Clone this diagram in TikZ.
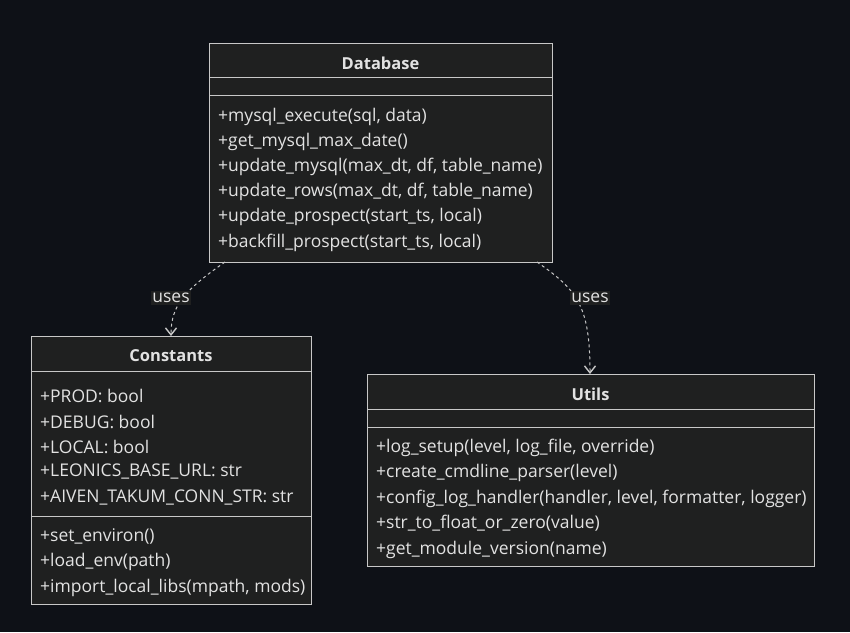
\documentclass[tikz,border=0pt]{standalone}
\usepackage{fontspec}
\setmainfont{Open Sans}
\usetikzlibrary{arrows.meta}

\definecolor{bgcol}{HTML}{0E1117}
\definecolor{boxfill}{HTML}{1F2020}
\definecolor{boxline}{HTML}{C8C8C8}
\definecolor{txtcol}{HTML}{E2E2E2}

\tikzset{
 classbox/.style={draw=boxline, fill=boxfill, line width=1pt, inner sep=0pt, anchor=north west},
 member/.style={anchor=west, text=txtcol, inner sep=0pt, yshift=-1.5pt, font=\fontsize{17.5}{20}\selectfont},
 classtitle/.style={text=txtcol, inner sep=0pt, yshift=-1pt, font=\bfseries\fontsize{16.5}{20}\selectfont},
 sepline/.style={draw=boxline, line width=1pt},
 dep/.style={draw=boxline, line width=1pt, dash pattern=on 3pt off 3pt, -{Straight Barb[length=7pt,width=11pt,line width=1.4pt]}},
 edgelabel/.style={fill=boxfill, text=txtcol, inner xsep=1.5pt, inner ysep=2.5pt, font=\fontsize{17.5}{20}\selectfont}
}

\begin{document}
\begin{tikzpicture}[x=1pt,y=-1pt]
 \fill[bgcol] (0,0) rectangle (850,632);
 \useasboundingbox (0,0) rectangle (850,632);

 %Boxes
 \node[classbox, minimum width=343pt, minimum height=219pt] (database) at (209,43) {};
 \node[classbox, minimum width=280pt, minimum height=268pt] (constants) at (31,336) {};
 \node[classbox, minimum width=447pt, minimum height=192pt] (utils) at (367,374) {};

 %Separators
 \draw[sepline] (209,77) -- (552,77);
 \draw[sepline] (209,95) -- (552,95);
 \draw[sepline] (31,371) -- (311,371);
 \draw[sepline] (31,516) -- (311,516);
 \draw[sepline] (367,409) -- (814,409);
 \draw[sepline] (367,427) -- (814,427);

 %Titles
 \node[classtitle] (dbtitle) at (380.5,62) {Database};
 \node[classtitle] (consttitle) at (171,355) {Constants};
 \node[classtitle] (utilstitle) at (590.5,393) {Utils};

 %Database members
 \foreach \y/\txt [count=\i] in {115/+mysql\_execute(sql{,} data),
                                 140/+get\_mysql\_max\_date(),
                                 165/+update\_mysql(max\_dt{,} df{,} table\_name),
                                 190/+update\_rows(max\_dt{,} df{,} table\_name),
                                 215/+update\_prospect(start\_ts{,} local),
                                 241/+backfill\_prospect(start\_ts{,} local)}
  \node[member] (dbm\i) at (218,\y) {\txt};

 %Constants members
 \foreach \y/\txt [count=\i] in {394/+PROD: bool,
                                 420/+DEBUG: bool,
                                 445/+LOCAL: bool,
                                 470/+LEONICS\_BASE\_URL: str,
                                 496/+AIVEN\_TAKUM\_CONN\_STR: str}
  \node[member] (ca\i) at (40,\y) {\txt};
 \foreach \y/\txt [count=\i] in {535/+set\_environ(),
                                 560/+load\_env(path),
                                 586/+import\_local\_libs(mpath{,} mods)}
  \node[member] (cm\i) at (40,\y) {\txt};

 %Utils members
 \foreach \y/\txt [count=\i] in {446/+log\_setup(level{,} log\_file{,} override),
                                 471/+create\_cmdline\_parser(level),
                                 497/+config\_log\_handler(handler{,} level{,} formatter{,} logger),
                                 522/+str\_to\_float\_or\_zero(value),
                                 548/+get\_module\_version(name)}
  \node[member] (um\i) at (376,\y) {\txt};

 %Lines
 \coordinate (dbleft) at (225,262);
 \coordinate (dbright) at (537,262);
 \coordinate (consttop) at (171,336);
 \coordinate (utilstop) at (590,374);
 \draw[dep] (dbleft) .. controls (185,290) and (171,305) .. (consttop);
 \draw[dep] (dbright) .. controls (577,290) and (590,305) .. (utilstop);

 %Labels
 \node[edgelabel] (usesleft) at (171,298) {uses};
 \node[edgelabel] (usesright) at (590,298) {uses};

\end{tikzpicture}
\end{document}
